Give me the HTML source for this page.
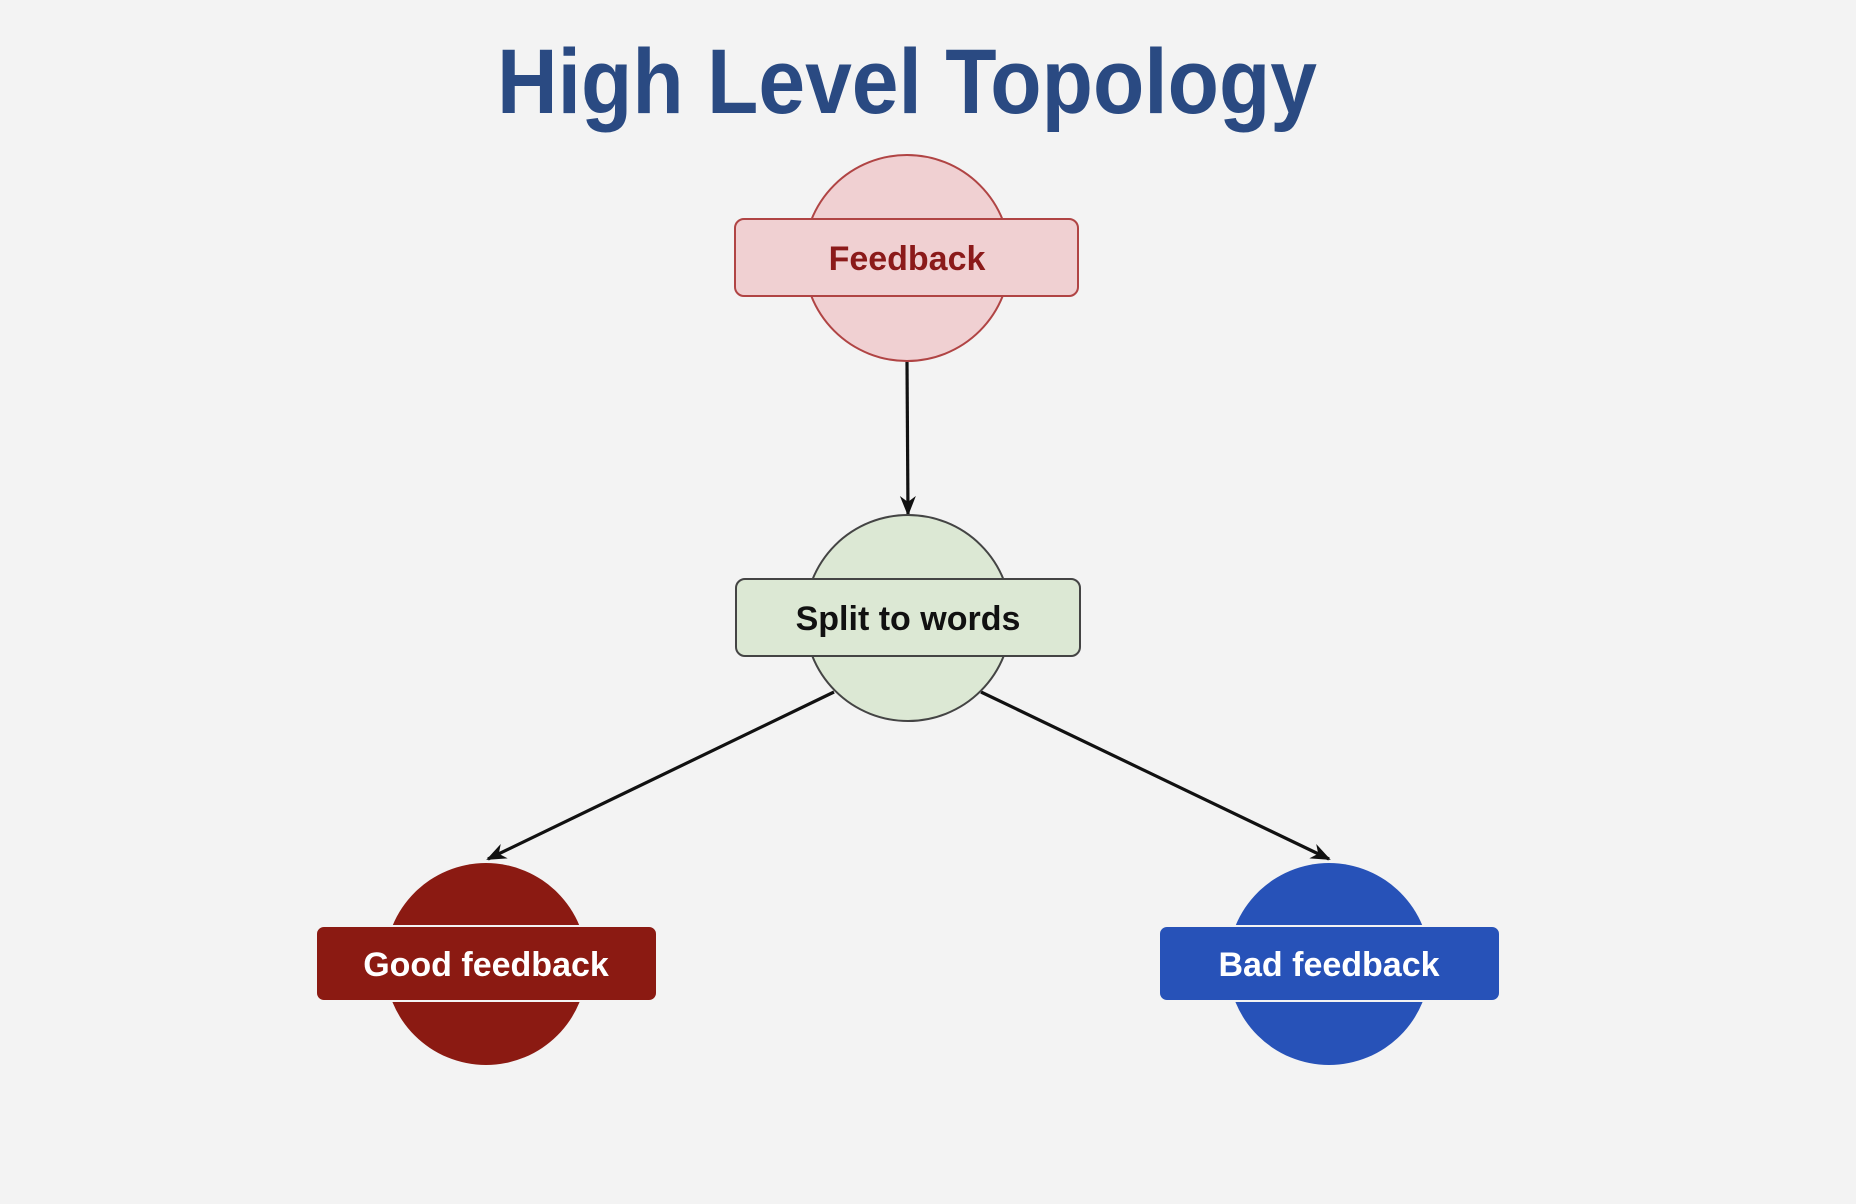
<!DOCTYPE html>
<html><head><meta charset="utf-8"><style>
html,body{margin:0;padding:0;background:#f3f3f3;}
svg{display:block}
</style></head><body>
<svg width="1856" height="1204" viewBox="0 0 1856 1204" xmlns="http://www.w3.org/2000/svg">
<rect width="1856" height="1204" fill="#f3f3f3"/>
<defs>
<marker id="ah" markerWidth="20" markerHeight="20" refX="18" refY="10" orient="auto" markerUnits="userSpaceOnUse">
<path d="M0,2 L20,10 L0,18 L6,10 Z" fill="#111"/>
</marker>
</defs>
<text x="907" y="113" text-anchor="middle" font-family="Liberation Sans, sans-serif" font-weight="bold" font-size="92" fill="#2a4a82" textLength="820" lengthAdjust="spacingAndGlyphs">High Level Topology</text>

<line x1="907" y1="362" x2="908" y2="514" stroke="#111" stroke-width="3.2" marker-end="url(#ah)"/>
<line x1="834" y1="692" x2="488" y2="859" stroke="#111" stroke-width="3.2" marker-end="url(#ah)"/>
<line x1="981" y1="692" x2="1329" y2="859" stroke="#111" stroke-width="3.2" marker-end="url(#ah)"/>

<circle cx="907" cy="258" r="103" fill="#f0d0d2" stroke="#b04444" stroke-width="2"/>
<rect x="735" y="219" width="343" height="77" rx="9" fill="#f0d0d2" stroke="#b04444" stroke-width="2"/>
<text x="907" y="270" text-anchor="middle" font-family="Liberation Sans, sans-serif" font-weight="bold" font-size="34" fill="#8b1a1a">Feedback</text>

<circle cx="908" cy="618" r="103" fill="#dce8d4" stroke="#444" stroke-width="2"/>
<rect x="736" y="579" width="344" height="77" rx="9" fill="#dce8d4" stroke="#444" stroke-width="2"/>
<text x="908" y="630" text-anchor="middle" font-family="Liberation Sans, sans-serif" font-weight="bold" font-size="34" fill="#111">Split to words</text>

<circle cx="486" cy="964" r="101" fill="#8b1a12"/>
<rect x="316" y="926" width="341" height="75" rx="8" fill="#8b1a12" stroke="#f3f3f3" stroke-width="2"/>
<text x="486" y="976" text-anchor="middle" font-family="Liberation Sans, sans-serif" font-weight="bold" font-size="34" fill="#fff">Good feedback</text>

<circle cx="1329" cy="964" r="101" fill="#2752b8"/>
<rect x="1159" y="926" width="341" height="75" rx="8" fill="#2752b8" stroke="#f3f3f3" stroke-width="2"/>
<text x="1329" y="976" text-anchor="middle" font-family="Liberation Sans, sans-serif" font-weight="bold" font-size="34" fill="#fff">Bad feedback</text>
</svg>
</body></html>
